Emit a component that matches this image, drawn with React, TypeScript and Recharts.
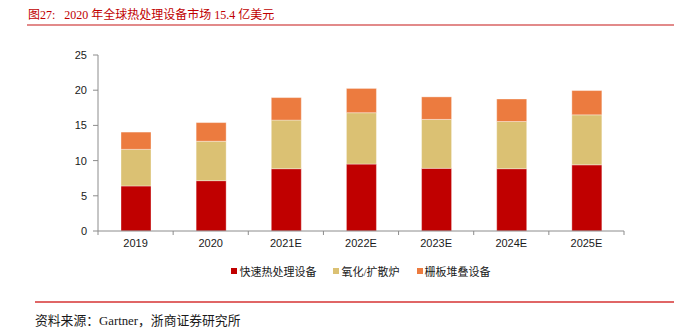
import React from "react";
import {Bar, BarChart, XAxis, YAxis} from "recharts";

const years = ["2019", "2020", "2021E", "2022E", "2023E", "2024E", "2025E"];
const rtpValues = [6.4, 7.15, 8.85, 9.5, 8.9, 8.85, 9.4];
const oxidationValues = [5.2, 5.6, 6.9, 7.3, 6.95, 6.7, 7.1];
const gateStackValues = [2.45, 2.65, 3.2, 3.45, 3.2, 3.2, 3.45];
const yTicks = [0, 5, 10, 15, 20, 25];

const seriesKeys = ["rtp", "oxidation", "gateStack"];
const seriesNames = ["快速热处理设备", "氧化/扩散炉", "栅板堆叠设备"];
const seriesColors = ["#C00000", "#DBC173", "#EC7B3F"];

const data = years.map((year, i) => ({
    year,
    rtp: rtpValues[i],
    oxidation: oxidationValues[i],
    gateStack: gateStackValues[i],
}));

const CHART_W = 674;
const CHART_H = 328;
const PLOT_LEFT = 98;
const PLOT_RIGHT = 624;
const BAND = (PLOT_RIGHT - PLOT_LEFT) / years.length;
const TICK_SIZE = 4;
const TICK_MARGIN = 4;

const axisColor = "#8c8c8c";
const titleRed = "#C00000";
const cjkSerif = "'Liberation Serif', 'Noto Sans CJK SC', serif";

const XTick = ({x, y, payload, index}: any) => {
    const axisY = y - TICK_SIZE - TICK_MARGIN;
    return (
        <g>
            <line x1={x - BAND / 2} x2={x - BAND / 2} y1={axisY} y2={axisY + 4} stroke={axisColor}/>
            {index === years.length - 1 &&
                <line x1={x + BAND / 2} x2={x + BAND / 2} y1={axisY} y2={axisY + 4} stroke={axisColor}/>
            }
            <text x={x} y={y} dy="0.71em" textAnchor="middle" fontSize={11}
                  fontFamily="'Liberation Sans', Arial, sans-serif" fill="#1a1a1a">
                {payload.value}
            </text>
        </g>
    );
};

export default function App() {
    return (
        <div style={{position: "absolute", left: 0, top: 0, width: CHART_W, height: CHART_H, background: "#fff"}}>
            <div style={{
                position: "absolute", left: 28, top: 5, fontSize: 12, color: titleRed,
                fontFamily: cjkSerif, whiteSpace: "nowrap"
            }}>
                图27:&nbsp;&nbsp;&nbsp;2020 年全球热处理设备市场 15.4 亿美元
            </div>
            <div style={{position: "absolute", left: 27, top: 24, width: CHART_W - 27, height: 2, background: "#E28A8A"}}/>

            <BarChart width={CHART_W}
                      height={CHART_H}
                      data={data}
                      barSize={30}
                      margin={{top: 55, right: CHART_W - PLOT_RIGHT, bottom: CHART_H - 231 - 30, left: 0}}
            >
                <XAxis dataKey="year"
                       height={30}
                       stroke={axisColor}
                       tickLine={false}
                       tickSize={TICK_SIZE}
                       tickMargin={TICK_MARGIN}
                       interval={0}
                       tick={<XTick/>}
                />
                <YAxis width={PLOT_LEFT}
                       domain={[0, 25]}
                       ticks={yTicks}
                       stroke={axisColor}
                       tickSize={5}
                       tickMargin={6}
                       tick={{fontSize: 11, fill: "#1a1a1a", fontFamily: "'Liberation Sans', Arial, sans-serif"}}
                />
                {seriesKeys.map((key, i) => (
                    <Bar key={key}
                         dataKey={key}
                         name={seriesNames[i]}
                         stackId="a"
                         fill={seriesColors[i]}
                         stroke="#ffffff"
                         strokeOpacity={0.6}
                         strokeWidth={0.6}
                         isAnimationActive={false}
                    />
                ))}
            </BarChart>

            <div style={{
                position: "absolute", left: PLOT_LEFT, width: PLOT_RIGHT - PLOT_LEFT, top: 263,
                display: "flex", justifyContent: "center", gap: 17, fontSize: 11,
                fontFamily: cjkSerif, color: "#1a1a1a", whiteSpace: "nowrap"
            }}>
                {seriesNames.map((name, i) => (
                    <div key={name} style={{display: "flex", alignItems: "center"}}>
                        <span style={{width: 6, height: 6, background: seriesColors[i], marginRight: 2, display: "inline-block"}}/>
                        <span>{name}</span>
                    </div>
                ))}
            </div>

            <div style={{position: "absolute", left: 35, top: 301, width: CHART_W - 35, height: 1.5, background: "#E06666"}}/>
            <div style={{
                position: "absolute", left: 35, top: 310, fontSize: 12.8, color: "#1a1a1a",
                fontFamily: cjkSerif, whiteSpace: "nowrap"
            }}>
                资料来源：Gartner，浙商证券研究所
            </div>
        </div>
    );
}
